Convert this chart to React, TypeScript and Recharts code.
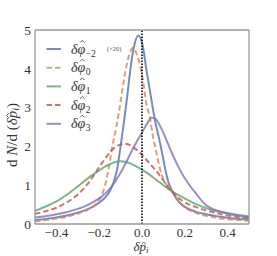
import React from 'react';
import { LineChart, Line, XAxis, YAxis, ReferenceLine, Legend } from 'recharts';

const xTicks = [-0.4, -0.2, 0, 0.2, 0.4];
const yTicks = [0, 1, 2, 3, 4, 5];

const blueX = [-0.5, -0.45, -0.4, -0.35, -0.3, -0.25, -0.2, -0.175, -0.15, -0.13, -0.115, -0.1, -0.085, -0.07, -0.055, -0.04, -0.017, 0.005, 0.02, 0.035, 0.05, 0.065, 0.08, 0.095, 0.11, 0.125, 0.14, 0.16, 0.18, 0.2, 0.25, 0.3, 0.35, 0.4, 0.45, 0.5];
const blueY = [0.1, 0.13, 0.17, 0.22, 0.29, 0.39, 0.55, 0.67, 0.85, 1.12, 1.45, 2.0, 2.6, 3.25, 3.95, 4.5, 4.86, 4.55, 4.0, 3.5, 3.0, 2.55, 2.2, 1.8, 1.38, 1.05, 0.86, 0.66, 0.53, 0.44, 0.32, 0.25, 0.2, 0.16, 0.13, 0.11];

const orangeX = [-0.5, -0.45, -0.4, -0.35, -0.3, -0.25, -0.21, -0.19, -0.17, -0.155, -0.14, -0.12, -0.1, -0.083, -0.065, -0.042, -0.02, 0.003, 0.02, 0.035, 0.05, 0.065, 0.08, 0.1, 0.125, 0.14, 0.16, 0.175, 0.2, 0.25, 0.3, 0.35, 0.4, 0.45, 0.5];
const orangeY = [0.07, 0.1, 0.14, 0.19, 0.27, 0.38, 0.55, 0.72, 1.05, 1.45, 1.95, 2.5, 3.15, 3.76, 4.25, 4.54, 4.3, 3.76, 3.1, 2.8, 2.3, 1.9, 1.52, 1.15, 0.95, 0.85, 0.68, 0.57, 0.43, 0.29, 0.21, 0.16, 0.12, 0.1, 0.08];

const greenX = [-0.5, -0.45, -0.4, -0.35, -0.3, -0.25, -0.2, -0.175, -0.15, -0.125, -0.1, -0.075, -0.05, -0.025, 0, 0.025, 0.05, 0.075, 0.1, 0.125, 0.15, 0.2, 0.25, 0.3, 0.35, 0.4, 0.45, 0.5];
const greenY = [0.34, 0.45, 0.58, 0.76, 0.97, 1.19, 1.38, 1.47, 1.54, 1.6, 1.62, 1.6, 1.55, 1.48, 1.4, 1.31, 1.21, 1.1, 1.0, 0.9, 0.81, 0.66, 0.52, 0.41, 0.33, 0.28, 0.23, 0.2];

const redX = [-0.5, -0.45, -0.4, -0.35, -0.3, -0.25, -0.215, -0.2, -0.175, -0.15, -0.125, -0.1, -0.085, -0.07, -0.05, -0.025, 0, 0.025, 0.05, 0.075, 0.1, 0.125, 0.14, 0.16, 0.2, 0.25, 0.3, 0.35, 0.4, 0.45, 0.5];
const redY = [0.26, 0.33, 0.42, 0.56, 0.76, 1.06, 1.34, 1.47, 1.66, 1.85, 1.98, 2.05, 2.07, 2.06, 2.01, 1.91, 1.78, 1.63, 1.47, 1.31, 1.12, 0.92, 0.84, 0.72, 0.56, 0.44, 0.35, 0.28, 0.22, 0.18, 0.15];

const purpleX = [-0.5, -0.45, -0.4, -0.35, -0.3, -0.25, -0.2, -0.175, -0.15, -0.125, -0.1, -0.075, -0.05, -0.025, 0, 0.025, 0.045, 0.065, 0.085, 0.1, 0.125, 0.15, 0.175, 0.2, 0.225, 0.25, 0.3, 0.35, 0.4, 0.45, 0.5];
const purpleY = [0.17, 0.2, 0.25, 0.31, 0.39, 0.5, 0.66, 0.77, 0.91, 1.1, 1.32, 1.58, 1.86, 2.12, 2.35, 2.6, 2.74, 2.7, 2.52, 2.35, 2.02, 1.7, 1.42, 1.18, 0.98, 0.8, 0.48, 0.35, 0.27, 0.21, 0.17];

const toRows = (xs: number[], ys: number[]) => xs.map((x, i) => ({ x, y: ys[i] }));

const series = [
  { key: 'm2', sub: '−2', color: '#4c72b0', dash: undefined as string | undefined, rows: toRows(blueX, blueY), extra: true },
  { key: '0', sub: '0', color: '#dd8452', dash: '5.5 3', rows: toRows(orangeX, orangeY), extra: false },
  { key: '1', sub: '1', color: '#55a868', dash: undefined, rows: toRows(greenX, greenY), extra: false },
  { key: '2', sub: '2', color: '#c44e52', dash: '5.5 3', rows: toRows(redX, redY), extra: false },
  { key: '3', sub: '3', color: '#8172b3', dash: undefined, rows: toRows(purpleX, purpleY), extra: false },
];

const FONT = '"Liberation Serif", "DejaVu Serif", serif';
const OPACITY = 0.8;
const FRAME = { stroke: '#999', strokeWidth: 1.3 };
const INK = '#333';

const fmtX = (v: number) => (v < 0 ? '−' + Math.abs(v).toFixed(1) : v.toFixed(1));

const Hat = ({ cx, cy, w = 2.2, h = 2.2 }: { cx: number; cy: number; w?: number; h?: number }) => (
  <polyline points={`${cx - w},${cy + h} ${cx},${cy} ${cx + w},${cy + h}`} fill="none" stroke={INK} strokeWidth={0.8} />
);

const LegendBox = () => (
  <svg width={100} height={100} style={{ display: 'block' }}>
    {series.map((s, i) => {
      const yc = 11 + i * 18.7;
      return (
        <g key={s.key}>
          <line x1={6.5} x2={21} y1={yc} y2={yc} stroke={s.color} strokeOpacity={OPACITY} strokeWidth={2} strokeDasharray={s.dash} />
          <text x={31} y={yc + 4.5} fontFamily={FONT} fontSize={14} fill={INK}>
            <tspan fontStyle="italic">δφ</tspan>
            <tspan fontSize={9.5} dx={0.5} dy={3}>{s.sub}</tspan>
          </text>
          <Hat cx={42.3} cy={yc - 8.6} />
          {s.extra ? (
            <text x={67} y={yc + 2} fontFamily={FONT} fontSize={6.5} fill="#555">(×20)</text>
          ) : null}
        </g>
      );
    })}
  </svg>
);

const YLabel = () => (
  <g transform="translate(16.5,134) rotate(-90)">
    <text x={-33} y={0} fontFamily={FONT} fontSize={15} fill={INK}>
      <tspan>d </tspan>
      <tspan fontStyle="italic">N</tspan>
      <tspan>/d (</tspan>
      <tspan fontStyle="italic">δp</tspan>
      <tspan fontSize={10} dy={2.5} fontStyle="italic">i</tspan>
      <tspan dy={-2.5}>)</tspan>
    </text>
    <Hat cx={18.5} cy={-9.8} w={2.3} h={2.2} />
  </g>
);

const XLabel = () => (
  <g>
    <text x={133.5} y={251} fontFamily={FONT} fontSize={13} fill={INK}>
      <tspan fontStyle="italic">δp</tspan>
      <tspan fontSize={9} dy={2} fontStyle="italic">i</tspan>
    </text>
    <Hat cx={143.8} cy={242.2} w={2.1} h={2} />
  </g>
);

export default function App() {
  const tickStyle = { fontFamily: FONT, fontSize: 13, fill: INK };
  return (
    <div style={{ position: 'absolute', left: 0, top: 0, width: 277, height: 256, background: '#fff' }}>
      <LineChart width={277} height={256} margin={{ top: 29, right: 27, bottom: 2, left: 5 }}>
        <XAxis
          dataKey="x"
          type="number"
          domain={[-0.5, 0.5]}
          ticks={xTicks}
          tickFormatter={fmtX}
          allowDataOverflow
          height={30}
          tickLine={false}
          tickSize={0}
          tickMargin={4}
          axisLine={FRAME}
          tick={tickStyle}
          label={<XLabel />}
        />
        <XAxis xAxisId="top" orientation="top" dataKey="x" type="number" domain={[-0.5, 0.5]} height={1} tick={false} tickLine={false} axisLine={FRAME} />
        <YAxis
          type="number"
          domain={[0, 5]}
          ticks={yTicks}
          allowDataOverflow
          width={30}
          tickLine={false}
          tickSize={0}
          tickMargin={4}
          axisLine={FRAME}
          tick={{ ...tickStyle, fontSize: 13.5 }}
          label={<YLabel />}
        />
        <YAxis yAxisId="right" orientation="right" domain={[0, 5]} width={1} tick={false} tickLine={false} axisLine={FRAME} />
        {series.map((s) => (
          <Line
            key={s.key}
            data={s.rows}
            dataKey="y"
            type="monotone"
            stroke={s.color}
            strokeOpacity={OPACITY}
            strokeWidth={2}
            strokeDasharray={s.dash}
            dot={false}
            activeDot={false}
            isAnimationActive={false}
          />
        ))}
        <ReferenceLine x={0} stroke="#000" strokeWidth={1.6} strokeDasharray="1.5 1.5" />
        <Legend
          layout="horizontal"
          verticalAlign="middle"
          align="center"
          content={() => <LegendBox />}
          wrapperStyle={{ position: 'absolute', left: 40, top: 38, width: 100, height: 100 }}
        />
      </LineChart>
    </div>
  );
}
